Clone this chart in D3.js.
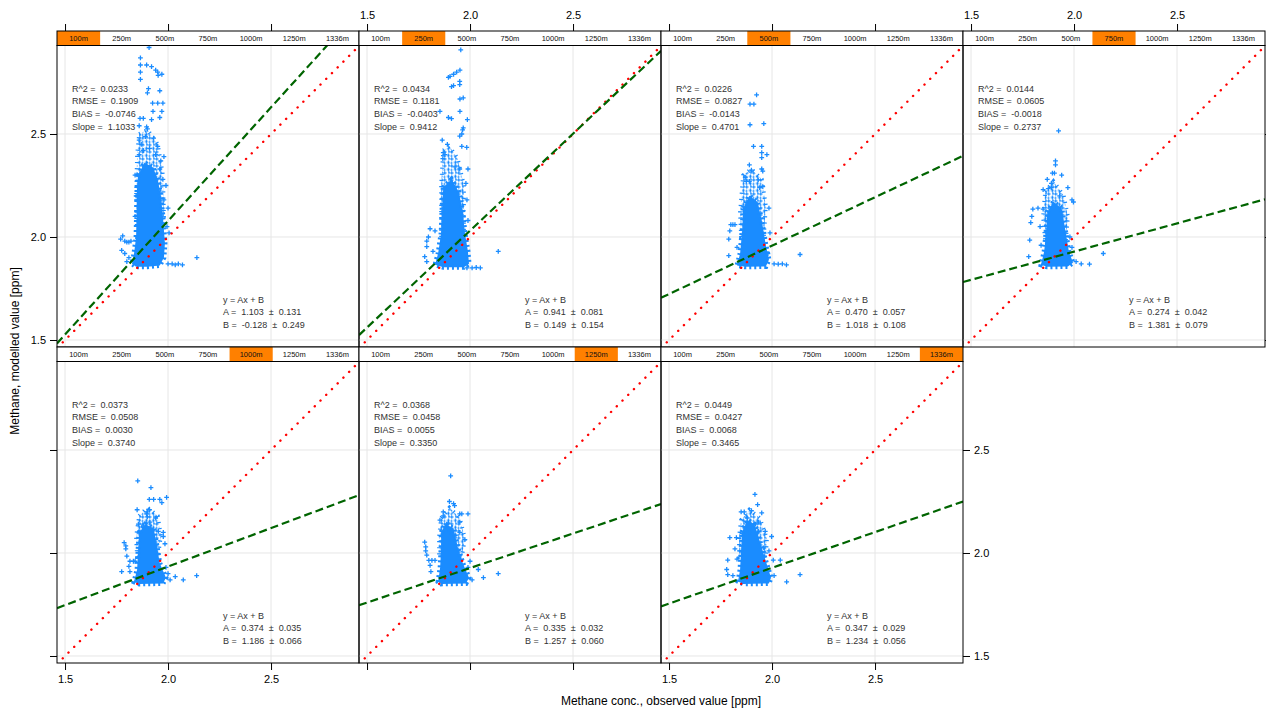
<!DOCTYPE html>
<html>
<head>
<meta charset="utf-8">
<script src="https://cdn.jsdelivr.net/npm/d3@7"></script>
<style>
  body { margin: 0; background: #fff; }
  text { font-family: "Liberation Sans", Arial, sans-serif; }
</style>
</head>
<body>
<script>
// strip levels (height of the model layer)
var levels = ["100m", "250m", "500m", "750m", "1000m", "1250m", "1336m"];

// statistics printed in each panel
var r2    = [0.0233, 0.0434, 0.0226, 0.0144, 0.0373, 0.0368, 0.0449];
var rmse  = [0.1909, 0.1181, 0.0827, 0.0605, 0.0508, 0.0458, 0.0427];
var bias  = [-0.0746, -0.0403, -0.0143, -0.0018, 0.0030, 0.0055, 0.0068];
var slope = [1.1033, 0.9412, 0.4701, 0.2737, 0.3740, 0.3350, 0.3465];
var coefA = [1.103, 0.941, 0.470, 0.274, 0.374, 0.335, 0.347];
var seA   = [0.131, 0.081, 0.057, 0.042, 0.035, 0.032, 0.029];
var coefB = [-0.128, 0.149, 1.018, 1.381, 1.186, 1.257, 1.234];
var seB   = [0.249, 0.154, 0.108, 0.079, 0.066, 0.060, 0.056];

var tickVals = [1.5, 2.0, 2.5];

// dense part of each point cloud (outline, [obs, mod] in ppm)
var core100 = [[1.855,2.30],[1.885,2.36],[1.925,2.34],[1.95,2.28],[1.965,2.20],[1.975,2.10],[1.985,1.97],[1.98,1.90],[1.96,1.862],[1.90,1.856],[1.845,1.856],[1.825,1.87],[1.835,1.92],[1.845,2.00],[1.848,2.15],[1.85,2.26]];
var core250 = [[1.87,2.24],[1.91,2.28],[1.945,2.22],[1.965,2.12],[1.975,2.02],[1.99,1.93],[1.995,1.87],[1.97,1.853],[1.87,1.853],[1.83,1.865],[1.845,1.92],[1.86,2.02],[1.865,2.15]];
var core500 = [[1.86,2.14],[1.89,2.20],[1.93,2.17],[1.95,2.08],[1.97,1.96],[1.985,1.89],[1.97,1.857],[1.87,1.855],[1.83,1.862],[1.845,1.92],[1.855,2.03]];
var core750 = [[1.87,2.12],[1.90,2.17],[1.94,2.14],[1.955,2.05],[1.975,1.93],[1.995,1.875],[1.97,1.857],[1.87,1.855],[1.84,1.865],[1.855,1.93],[1.865,2.03]];
var core1000 = [[1.86,2.10],[1.89,2.14],[1.93,2.12],[1.945,2.04],[1.96,1.95],[1.99,1.88],[1.975,1.852],[1.86,1.850],[1.835,1.86],[1.85,1.92],[1.855,2.02]];
var core1250 = [[1.86,2.10],[1.88,2.14],[1.92,2.12],[1.94,2.03],[1.965,1.95],[1.995,1.88],[1.98,1.852],[1.86,1.850],[1.845,1.86],[1.855,1.93],[1.86,2.03]];
var core1336 = [[1.855,2.10],[1.88,2.16],[1.915,2.14],[1.94,2.06],[1.97,1.96],[1.995,1.88],[1.985,1.852],[1.86,1.850],[1.835,1.862],[1.845,1.92],[1.85,2.02]];

// looser part around the core
var halo100 = [[1.86,2.50],[1.90,2.52],[1.95,2.45],[1.975,2.30],[1.98,2.10],[1.96,2.0],[1.85,2.0],[1.845,2.2],[1.85,2.40]];
var halo250 = [[1.87,2.42],[1.90,2.44],[1.94,2.38],[1.97,2.25],[1.97,2.0],[1.86,2.0],[1.86,2.25]];
var halo500 = [[1.86,2.30],[1.90,2.33],[1.95,2.28],[1.97,2.15],[1.96,2.0],[1.85,2.0],[1.845,2.12]];
var halo750 = [[1.86,2.22],[1.90,2.27],[1.95,2.20],[1.97,2.10],[1.96,1.98],[1.86,1.98],[1.85,2.10]];
var halo1000 = [[1.86,2.18],[1.90,2.22],[1.95,2.18],[1.965,2.08],[1.95,1.98],[1.85,1.98],[1.845,2.08]];
var halo1250 = [[1.86,2.17],[1.90,2.22],[1.95,2.17],[1.975,2.07],[1.96,1.98],[1.85,1.98],[1.85,2.08]];
var halo1336 = [[1.85,2.16],[1.89,2.21],[1.94,2.17],[1.975,2.07],[1.97,1.98],[1.84,1.98],[1.84,2.08]];

// single points outside the dense part
var pts100 = [[1.908,2.92],[1.866,2.87],[1.866,2.835],[1.866,2.80],[1.866,2.765],[1.896,2.835],[1.92,2.827],[1.94,2.81],[1.95,2.80],[1.97,2.79],[1.952,2.785],[1.96,2.71],[1.905,2.72],[1.90,2.70],[1.925,2.65],[1.95,2.65],[1.975,2.65],[1.927,2.61],[1.97,2.61],[1.96,2.58],[1.864,2.576],[1.88,2.576],[1.92,2.57],[1.86,2.54],[1.896,2.535],[1.90,2.525],[1.86,2.47],[1.89,2.487],[1.93,2.48],[1.95,2.44],[1.98,2.39],[1.965,2.37],[1.87,2.45],[1.88,2.42],[1.91,2.43],[1.86,2.40],[1.94,2.40],[1.96,2.33],[1.975,2.28],[1.99,2.25],[1.98,2.18],[2.00,2.14],[1.995,2.05],[2.005,2.02],[1.77,1.99],[1.78,2.005],[1.79,1.98],[1.80,1.975],[1.81,1.975],[1.82,1.98],[1.775,1.935],[1.79,1.92],[1.81,1.90],[1.80,1.88],[2.00,1.87],[2.02,1.87],[2.035,1.865],[2.05,1.87],[2.07,1.865],[2.14,1.90],[1.84,2.30],[1.845,2.20],[1.84,2.10]];
var pts250 = [[1.955,2.908],[1.951,2.81],[1.935,2.80],[1.92,2.79],[1.903,2.78],[1.895,2.775],[1.95,2.755],[1.95,2.74],[1.91,2.73],[1.92,2.735],[1.951,2.67],[1.967,2.675],[1.951,2.61],[1.895,2.58],[1.91,2.575],[1.854,2.61],[1.987,2.57],[1.967,2.53],[1.964,2.52],[1.96,2.50],[1.95,2.49],[1.865,2.47],[1.89,2.45],[1.96,2.44],[1.984,2.435],[1.87,2.41],[1.878,2.40],[1.868,2.38],[1.927,2.34],[1.95,2.33],[1.99,2.33],[1.98,2.26],[1.985,2.18],[1.99,2.08],[1.806,2.04],[1.798,2.0],[1.79,1.98],[1.79,1.953],[1.78,1.905],[1.79,1.88],[1.83,2.03],[1.82,1.93],[1.985,1.85],[2.01,1.85],[2.03,1.852],[2.05,1.85],[2.137,1.93]];
var pts500 = [[1.925,2.69],[1.893,2.645],[1.912,2.645],[1.893,2.545],[1.96,2.55],[1.91,2.44],[1.95,2.44],[1.95,2.41],[1.95,2.385],[1.975,2.40],[1.89,2.35],[1.90,2.325],[1.95,2.33],[1.955,2.32],[1.87,2.29],[1.875,2.27],[1.89,2.27],[1.933,2.277],[1.955,2.245],[1.94,2.24],[1.985,2.14],[1.80,2.06],[1.81,2.06],[1.82,2.06],[1.795,2.03],[1.79,1.99],[1.79,1.91],[1.83,1.95],[2.01,1.87],[2.03,1.868],[2.05,1.87],[2.07,1.865],[2.136,1.915],[1.99,2.02],[1.98,1.92]];
var pts750 = [[1.925,2.515],[1.91,2.37],[1.91,2.35],[1.905,2.31],[1.895,2.31],[1.87,2.28],[1.89,2.26],[1.85,2.23],[1.875,2.235],[1.89,2.24],[1.97,2.24],[1.99,2.18],[1.997,2.17],[1.80,2.135],[1.825,2.14],[1.85,2.135],[1.795,2.10],[1.79,2.07],[1.785,1.985],[1.78,1.905],[2.035,1.87],[2.075,1.868],[2.142,1.92],[1.98,2.00],[1.99,1.95],[2.01,1.88],[1.835,2.05],[1.84,1.96],[1.94,2.30],[1.93,2.20]];
var pts1000 = [[1.853,2.35],[1.917,2.317],[1.909,2.26],[1.93,2.26],[1.96,2.26],[1.97,2.245],[1.993,2.27],[1.85,2.21],[1.90,2.20],[1.91,2.21],[1.896,2.19],[1.90,2.175],[1.94,2.17],[1.856,2.14],[1.88,2.135],[1.912,2.15],[1.953,2.105],[1.977,2.10],[1.977,2.08],[1.787,2.05],[1.795,2.035],[1.795,2.02],[1.80,1.985],[1.815,1.96],[1.832,1.96],[1.84,1.96],[1.81,1.935],[1.815,1.91],[1.775,1.91],[1.985,2.045],[2.035,1.885],[2.074,1.87],[2.139,1.89],[2.01,1.87],[1.99,1.93],[2.00,1.90]];
var pts1250 = [[1.906,2.374],[1.90,2.25],[1.92,2.24],[1.925,2.23],[1.87,2.20],[1.87,2.18],[1.95,2.19],[1.99,2.19],[1.96,2.19],[1.854,2.16],[1.887,2.14],[1.895,2.145],[1.95,2.15],[1.895,2.12],[1.903,2.10],[1.95,2.10],[1.78,2.053],[1.785,2.03],[1.785,2.01],[1.79,1.99],[1.80,1.964],[1.815,1.964],[1.83,1.964],[1.806,1.94],[1.81,1.91],[1.975,2.065],[2.04,1.92],[2.065,1.88],[2.137,1.90],[2.01,1.87],[1.99,1.93],[2.00,1.96]];
var pts1336 = [[1.917,2.285],[1.93,2.235],[1.85,2.20],[1.865,2.20],[1.90,2.205],[1.95,2.195],[1.88,2.17],[1.92,2.14],[1.935,2.15],[1.89,2.10],[1.855,2.095],[1.935,2.105],[1.967,2.105],[1.795,2.075],[1.827,2.075],[1.998,2.08],[1.82,2.02],[1.96,2.025],[1.985,2.01],[1.785,1.965],[2.006,1.965],[2.04,1.965],[1.78,1.92],[1.785,1.895],[1.81,1.89],[2.01,1.89],[2.071,1.86],[2.136,1.895],[1.83,1.97]];

var cores = [core100, core250, core500, core750, core1000, core1250, core1336];
var halos = [halo100, halo250, halo500, halo750, halo1000, halo1250, halo1336];
var points = [pts100, pts250, pts500, pts750, pts1000, pts1250, pts1336];

var width = 1266, height = 708;
var left0 = 57, top0 = 31;
var pW = 302, pH = 301.5, stripH = 14.5;
var ptColor = "#1a8cff";

var svg = d3.select("body").append("svg")
    .attr("width", width)
    .attr("height", height)
    .style("display", "block");

svg.append("rect").attr("width", width).attr("height", height).attr("fill", "#fff");

// cross texture for the looser part of the clouds
var pat = svg.append("defs").append("pattern")
    .attr("id", "crosses").attr("patternUnits", "userSpaceOnUse")
    .attr("width", 7).attr("height", 7);
pat.append("path")
    .attr("d", "M0,1.5H3.6M1.8,-0.3V3.3M3.6,5H7.2M5.4,3.2V6.8M5,1.2H7M6,0.2V2.2M0.5,5.5H2.5M1.5,4.5V6.5")
    .attr("stroke", ptColor).attr("stroke-width", 1.2).attr("fill", "none");

var x = d3.scaleLinear().domain([1.461, 2.927]).range([0, pW]);
var y = d3.scaleLinear().domain([1.466, 2.9296]).range([pH, 0]);
var stripX = d3.scaleBand().domain(levels).range([0, pW]);

var loc = d3.formatLocale({ decimal: ".", thousands: ",", grouping: [3], currency: ["", ""], minus: "-" });
var f4 = loc.format(".4f"), f3 = loc.format(".3f");
var cross = "M-2.4,0H2.4M0,-2.4V2.4";

levels.forEach(function (lev, i) {
    var col = i % 4, row = Math.floor(i / 4);
    var gx = left0 + col * pW;
    var gy = top0 + row * (pH + stripH);
    var g = svg.append("g").attr("transform", "translate(" + gx + "," + gy + ")");

    // strip
    var strip = g.append("g");
    strip.append("rect").attr("width", pW).attr("height", stripH).attr("fill", "#fff");
    strip.append("rect")
        .attr("x", stripX(lev)).attr("width", stripX.bandwidth())
        .attr("height", stripH).attr("fill", "#ff8000");
    strip.selectAll("text").data(levels).enter().append("text")
        .attr("x", function (d) { return stripX(d) + stripX.bandwidth() / 2; })
        .attr("y", stripH / 2 + 2.6)
        .attr("text-anchor", "middle")
        .attr("font-size", "7.5px")
        .attr("fill", "#111")
        .text(function (d) { return d; });
    strip.append("rect").attr("width", pW).attr("height", stripH)
        .attr("fill", "none").attr("stroke", "#000").attr("stroke-width", 1);

    var p = g.append("g").attr("transform", "translate(0," + stripH + ")");

    p.append("clipPath").attr("id", "clip" + i)
        .append("rect").attr("width", pW).attr("height", pH);

    // grid
    p.selectAll(".gx").data(tickVals).enter().append("line")
        .attr("x1", function (d) { return x(d); }).attr("x2", function (d) { return x(d); })
        .attr("y1", 0).attr("y2", pH)
        .attr("stroke", "#e6e6e6").attr("stroke-width", 1);
    p.selectAll(".gy").data(tickVals).enter().append("line")
        .attr("y1", function (d) { return y(d); }).attr("y2", function (d) { return y(d); })
        .attr("x1", 0).attr("x2", pW)
        .attr("stroke", "#e6e6e6").attr("stroke-width", 1);

    var inner = p.append("g").attr("clip-path", "url(#clip" + i + ")");
    var area = d3.line().x(function (d) { return x(d[0]); }).y(function (d) { return y(d[1]); })
        .curve(d3.curveLinearClosed);

    inner.append("path").datum(halos[i]).attr("d", area)
        .attr("fill", "url(#crosses)")
        .attr("stroke", ptColor).attr("stroke-width", 4).attr("stroke-dasharray", "1.2,5");
    inner.append("path").datum(cores[i]).attr("d", area)
        .attr("fill", ptColor)
        .attr("stroke", ptColor).attr("stroke-width", 5).attr("stroke-dasharray", "2,3");

    inner.selectAll(".pt").data(points[i]).enter().append("path")
        .attr("d", cross)
        .attr("transform", function (d) { return "translate(" + x(d[0]) + "," + y(d[1]) + ")"; })
        .attr("stroke", ptColor).attr("stroke-width", 1.3).attr("fill", "none");

    // 1:1 line
    var dom = x.domain();
    inner.append("line")
        .attr("x1", x(dom[0])).attr("y1", y(dom[0]))
        .attr("x2", x(3.0)).attr("y2", y(3.0))
        .attr("stroke", "#ff0000").attr("stroke-width", 2.4)
        .attr("stroke-linecap", "round")
        .attr("stroke-dasharray", "0.1,8");

    // regression line
    inner.append("line")
        .attr("x1", x(dom[0])).attr("y1", y(coefA[i] * dom[0] + coefB[i]))
        .attr("x2", x(dom[1])).attr("y2", y(coefA[i] * dom[1] + coefB[i]))
        .attr("stroke", "#006400").attr("stroke-width", 2.2)
        .attr("stroke-dasharray", "8,4");

    // stats
    var stats = [
        "R^2 =  " + f4(r2[i]),
        "RMSE =  " + f4(rmse[i]),
        "BIAS =  " + f4(bias[i]),
        "Slope =  " + f4(slope[i])
    ];
    p.selectAll(".st").data(stats).enter().append("text")
        .attr("x", 15).attr("y", function (d, k) { return 46 + k * 12.8; })
        .attr("font-size", "9px").attr("fill", "#333")
        .style("white-space", "pre")
        .text(function (d) { return d; });

    var eq = [
        "y = Ax + B",
        "A =  " + f3(coefA[i]) + "  \u00b1  " + f3(seA[i]),
        "B =  " + f3(coefB[i]) + "  \u00b1  " + f3(seB[i])
    ];
    p.selectAll(".eq").data(eq).enter().append("text")
        .attr("x", 166).attr("y", function (d, k) { return 257 + k * 12.7; })
        .attr("font-size", "9px").attr("fill", "#333")
        .style("white-space", "pre")
        .text(function (d) { return d; });

    // frame
    p.append("rect").attr("width", pW).attr("height", pH)
        .attr("fill", "none").attr("stroke", "#000").attr("stroke-width", 1);

    // axes (lattice style alternating labels)
    function styleAxis(a) {
        a.select(".domain").remove();
        a.selectAll("text").attr("font-size", "11px").attr("fill", "#000")
            .attr("font-family", "Liberation Sans, Arial, sans-serif");
        a.selectAll("line").attr("stroke", "#000");
    }
    var blank = function () { return ""; };
    var fmt = d3.format(".1f");

    if (row === 0) {
        var top = g.append("g").call(d3.axisTop(x).tickValues(tickVals).tickSize(7).tickPadding(5)
            .tickFormat(col % 2 === 1 ? fmt : blank));
        styleAxis(top);
    }
    if (row === 1) {
        var bot = p.append("g").attr("transform", "translate(0," + pH + ")")
            .call(d3.axisBottom(x).tickValues(tickVals).tickSize(7).tickPadding(5)
                .tickFormat(col % 2 === 0 ? fmt : blank));
        styleAxis(bot);
    }
    if (col === 0) {
        var la = p.append("g").call(d3.axisLeft(y).tickValues(tickVals).tickSize(7).tickPadding(4)
            .tickFormat(row === 0 ? fmt : blank));
        styleAxis(la);
    }
    if ((row === 0 && col === 3) || (row === 1 && col === 2)) {
        var ra = p.append("g").attr("transform", "translate(" + pW + ",0)")
            .call(d3.axisRight(y).tickValues(tickVals).tickSize(7).tickPadding(4)
                .tickFormat(row === 1 ? fmt : blank));
        styleAxis(ra);
    }
});

// axis titles
svg.append("text")
    .attr("x", left0 + 2 * pW).attr("y", 705)
    .attr("text-anchor", "middle").attr("font-size", "12px").attr("fill", "#000")
    .text("Methane conc., observed value [ppm]");

svg.append("text")
    .attr("transform", "translate(19,351) rotate(-90)")
    .attr("text-anchor", "middle").attr("font-size", "12px").attr("fill", "#000")
    .text("Methane, modelled value [ppm]");
</script>
</body>
</html>
